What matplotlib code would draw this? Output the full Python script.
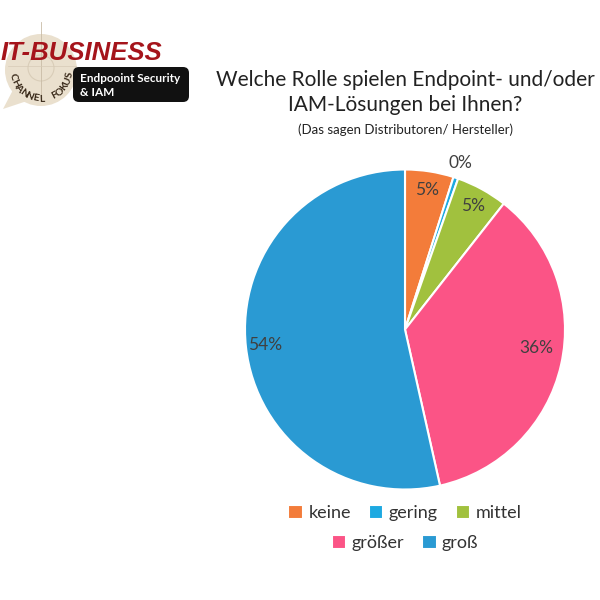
import numpy as np
import matplotlib
matplotlib.use("Agg")
import matplotlib.pyplot as plt
from matplotlib.patches import Circle, FancyBboxPatch, Polygon

# ---- data ----
categories = ["keine", "gering", "mittel", "größer", "groß"]
values = [4.9, 0.49, 5.2, 35.9, 53.51]
colors = ["#F37C3A", "#1DA9E1", "#A1C13E", "#FB5486", "#2A9AD3"]

title_line1 = "Welche Rolle spielen Endpoint- und/oder"
title_line2 = "IAM-Lösungen bei Ihnen?"
subtitle = "(Das sagen Distributoren/ Hersteller)"

FONT = ["Lato", "DejaVu Sans"]
plt.rcParams["font.family"] = FONT

fig = plt.figure(figsize=(6, 6), dpi=100)
W = H = 600.0

def fx(px):
    return px / W

def fy(py):
    return 1 - py / H

# ---- pie ----
cx, cy, r = 405, 329.5, 160
ax = fig.add_axes([fx(cx - r), fy(cy + r), 2 * r / W, 2 * r / H])
wedges, texts, autotexts = ax.pie(
    values, colors=colors, startangle=90, counterclock=False,
    autopct=lambda p: f"{p:.0f}%", pctdistance=0.88,
    wedgeprops=dict(edgecolor="white", linewidth=1.5),
    textprops=dict(color="#404040", fontsize=12.5),
)
ax.set_xlim(-1, 1)
ax.set_ylim(-1, 1)
ax.set_aspect("equal")
ax.axis("off")
for w, t in zip(wedges, autotexts):
    ang = np.deg2rad((w.theta1 + w.theta2) / 2)
    frac = (w.theta2 - w.theta1) / 360
    if frac < 0.02:
        t.set_position((1.1 * np.cos(ang), 1.1 * np.sin(ang)))
    elif frac > 0.3 and frac < 0.45:
        t.set_position((0.83 * np.cos(ang + 0.08), 0.83 * np.sin(ang + 0.08)))
    t.set_clip_on(False)

# ---- titles ----
fig.text(fx(405), fy(80), title_line1, ha="center", va="center", fontsize=15, color="#222222")
fig.text(fx(405), fy(105), title_line2, ha="center", va="center", fontsize=15, color="#222222")
fig.text(fx(405), fy(130), subtitle, ha="center", va="center", fontsize=9.5, color="#222222")

# ---- legend ----
leg_kw = dict(frameon=False, fontsize=13, handlelength=0.8, handleheight=0.8,
              handletextpad=0.3, columnspacing=1.0, labelcolor="#333333")
leg1 = fig.legend(wedges[:3], categories[:3], loc="center", ncol=3,
                  bbox_to_anchor=(fx(405), fy(513)), **leg_kw)
leg2 = fig.legend(wedges[3:], categories[3:], loc="center", ncol=2,
                  bbox_to_anchor=(fx(405), fy(543)), **leg_kw)

# ---- logo ----
lax = fig.add_axes([0, 0, 1, 1], zorder=-1)
lax.set_xlim(0, W)
lax.set_ylim(H, 0)
lax.axis("off")
beige = "#EAE0CE"
lax.add_patch(Circle((41, 70), 36, facecolor=beige, edgecolor="none"))
lax.add_patch(Polygon([[14, 88], [3, 109], [30, 100]], closed=True,
                      facecolor=beige, edgecolor="none"))
lax.plot([41, 41], [22, 96], color="#C9BBA6", lw=0.6)
lax.plot([8, 76], [66, 66], color="#D6CAB6", lw=0.5)
lax.add_patch(Circle((41, 68), 13, facecolor="none", edgecolor="#D9CDB8", lw=0.8))
lax.add_patch(FancyBboxPatch((73, 67), 116, 35, boxstyle="round,pad=0,rounding_size=6",
                             facecolor="#111111", edgecolor="none"))
lax.text(80, 79, "Endpooint Security", color="white", fontsize=8.5, fontweight="bold",
         va="center", ha="left")
lax.text(80, 93, "& IAM", color="white", fontsize=8.5, fontweight="bold",
         va="center", ha="left")
lax.text(1, 53, "IT-BUSINESS", color="#A5141B", fontsize=18.5, fontweight="bold",
         style="italic", va="center", ha="left",
         family=["Liberation Sans", "DejaVu Sans"])
arc_text = "CHANNEL FOKUS"
acx, acy, ar = 41, 70, 29
angs = np.linspace(194, 350, len(arc_text))
for ch, a in zip(arc_text, angs):
    rad = np.deg2rad(a)
    x = acx + ar * np.cos(rad)
    y = acy - ar * np.sin(rad)
    lax.text(x, y, ch, rotation=a + 90, rotation_mode="anchor", ha="center", va="center",
             fontsize=7.5, fontweight="bold", color="#3A2A1A")

fig.savefig("out.png", dpi=100, facecolor="white")
